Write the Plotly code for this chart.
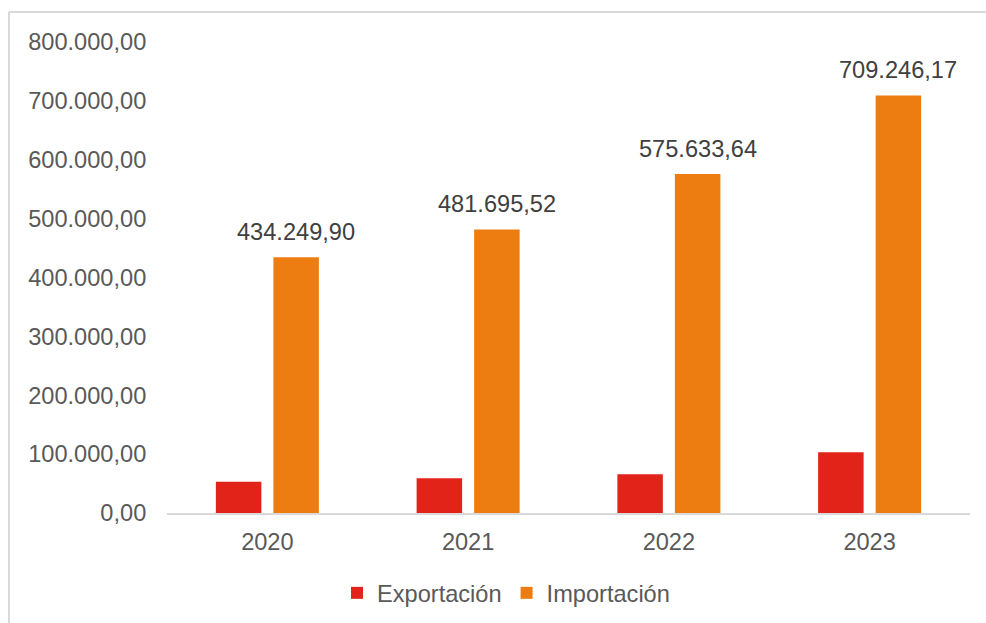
import plotly.graph_objects as go

years = ["2020", "2021", "2022", "2023"]
exportacion = [53100, 58900, 65700, 103000]
importacion = [434249.90, 481695.52, 575633.64, 709246.17]
y_ticks = [0, 100000, 200000, 300000, 400000, 500000, 600000, 700000, 800000]

RED = "#E2231A"
ORANGE = "#EE7D11"
FONT = "Liberation Sans, Arial, sans-serif"
FS = 23.6

W, H = 986, 623
L, R, T, B = 167, 16, 42, 110
pw, ph = W - L - R, H - T - B
BARGAP, GROUPGAP = 0.427, 0.209

def px(x):
    return (x - L) / pw

def py(y):
    return (H - B - y) / ph

def es_fmt(v):
    s = f"{v:,.2f}"
    return s.replace(",", "_").replace(".", ",").replace("_", ".")

fig = go.Figure()
fig.add_trace(go.Bar(x=years, y=exportacion, name="Exportación",
                     marker=dict(color=RED, line=dict(width=0))))
fig.add_trace(go.Bar(x=years, y=importacion, name="Importación",
                     marker=dict(color=ORANGE, line=dict(width=0))))

# offset of the import bar centre from the category centre, in pixels
cat_w = pw / len(years)
slot = cat_w * (1 - BARGAP) / 2
for i, v in enumerate(importacion):
    fig.add_annotation(x=i, y=v, xref="x", yref="y", text=es_fmt(v), showarrow=False,
                       xanchor="center", yanchor="bottom", xshift=slot / 2, yshift=10,
                       font=dict(size=FS, color="#404040", family=FONT))

fig.update_layout(
    width=W, height=H,
    margin=dict(l=L, r=R, t=T, b=B, pad=0, autoexpand=False),
    paper_bgcolor="white", plot_bgcolor="white",
    separators=",.",
    barmode="group", bargap=BARGAP, bargroupgap=GROUPGAP,
    font=dict(family=FONT, size=FS, color="#595959"),
    showlegend=True,
    legend=dict(orientation="h", x=px(337), xanchor="left", y=py(593), yanchor="middle",
                font=dict(size=FS, color="#595959"), traceorder="normal",
                itemsizing="constant", bgcolor="rgba(0,0,0,0)"),
    xaxis=dict(type="category", range=[-0.5, len(years) - 0.5],
               showgrid=False, showline=True, linecolor="#D9D9D9", linewidth=2,
               ticks="outside", ticklen=7, tickcolor="rgba(0,0,0,0)",
               tickfont=dict(size=FS, color="#595959"), zeroline=False, automargin=False),
    yaxis=dict(range=[0, 800000], tickvals=y_ticks, tickformat=",.2f",
               showgrid=False, showline=False, zeroline=False, automargin=False,
               ticks="outside", ticklen=15, tickcolor="rgba(0,0,0,0)",
               tickfont=dict(size=FS, color="#595959")),
    shapes=[
        dict(type="line", xref="paper", yref="paper", x0=px(9), x1=px(990), y0=py(12), y1=py(12),
             line=dict(color="#D9D9D9", width=2)),
        dict(type="line", xref="paper", yref="paper", x0=px(9), x1=px(9), y0=py(12), y1=py(630),
             line=dict(color="#D9D9D9", width=2)),
    ],
)

fig.write_html("out.html")
